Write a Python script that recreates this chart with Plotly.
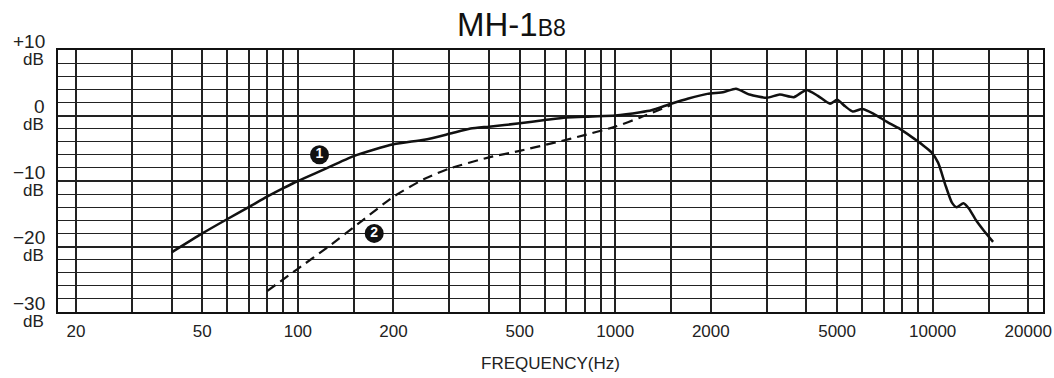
import plotly.graph_objects as go

# ---- data ----
freq_1 = [40, 50, 60, 70, 80, 90, 100, 120, 150, 200, 250, 300, 350, 400, 500, 600, 700,
          850, 1000, 1200, 1300, 1500, 1700, 1950, 2200, 2400, 2650, 3000, 3300, 3650,
          4000, 4350, 4750, 5000, 5300, 5600, 6000, 6500, 7200, 7800, 8600, 9300, 9900,
          10400, 11000, 11500, 11900, 12500, 13000, 13700, 14500, 15500]
db_1 = [-20.9, -18.0, -15.8, -14.0, -12.4, -11.1, -10.0, -8.3, -6.2, -4.4, -3.7, -2.8, -2.0,
        -1.7, -1.2, -0.7, -0.3, -0.15, 0.0, 0.5, 0.8, 1.8, 2.6, 3.3, 3.6, 4.1, 3.2, 2.7,
        3.2, 2.8, 3.9, 3.0, 1.8, 2.4, 1.4, 0.6, 1.0, 0.3, -1.0, -1.9, -3.3, -4.5, -5.6,
        -7.2, -10.8, -13.3, -14.0, -13.4, -14.2, -16.0, -17.6, -19.3]

freq_2 = [80, 100, 125, 160, 200, 250, 300, 400, 500, 650, 800, 1000, 1200, 1500]
db_2 = [-26.8, -23.4, -20.0, -16.0, -12.4, -9.7, -8.1, -6.4, -5.4, -4.1, -3.0, -1.7, -0.3, 1.6]

x_grid = [20, 30, 40, 50, 60, 70, 80, 90, 100, 150, 200, 300, 400, 500, 600, 700, 800, 900,
          1000, 1500, 2000, 3000, 4000, 5000, 6000, 7000, 8000, 9000, 10000, 15000, 20000]
x_labels = {20: "20", 50: "50", 100: "100", 200: "200", 500: "500", 1000: "1000",
            2000: "2000", 5000: "5000", 10000: "10000", 20000: "20000"}
y_label_vals = [10, 0, -10, -20, -30]
y_label_text = ["+10", "0", "−10", "−20", "−30"]

curve_names = ["1", "2"]
curve_label_x = [117, 174]
curve_label_y = [-6, -18]

FONT = "Liberation Sans, Arial, sans-serif"
GRID = "#222222"

fig = go.Figure()
fig.add_trace(go.Scatter(x=freq_1, y=db_1, mode="lines",
                         line=dict(color="#111", width=2.5, shape="spline", smoothing=0.6),
                         showlegend=False, hoverinfo="skip"))
fig.add_trace(go.Scatter(x=freq_2, y=db_2, mode="lines",
                         line=dict(color="#111", width=2.2, dash="10px,6px", shape="spline", smoothing=0.6),
                         showlegend=False, hoverinfo="skip"))
fig.add_trace(go.Scatter(x=curve_label_x, y=curve_label_y, mode="markers+text",
                         marker=dict(size=19, color="#111", line=dict(width=0)),
                         text=["<b>%s</b>" % n for n in curve_names], textposition="middle center",
                         textfont=dict(family=FONT, size=14, color="white"),
                         showlegend=False, hoverinfo="skip"))

fig.update_xaxes(type="log", range=[1.2443, 4.3476], automargin=False,
                 tickvals=x_grid, ticktext=[x_labels.get(v, "") for v in x_grid],
                 showgrid=True, gridcolor=GRID, gridwidth=1.5,
                 ticks="", ticklabelstandoff=3,
                 tickfont=dict(family=FONT, size=17, color="#222"),
                 showline=True, mirror=True, linecolor="#111", linewidth=2,
                 zeroline=False,
                 title=dict(text="FREQUENCY(Hz)", font=dict(family=FONT, size=17, color="#222"),
                            standoff=17))
fig.update_yaxes(range=[-30, 10], tickmode="linear", tick0=-30, dtick=10, automargin=False,
                 showgrid=True, gridcolor=GRID, gridwidth=2,
                 minor=dict(tickmode="linear", tick0=-30, dtick=2, showgrid=True,
                            gridcolor=GRID, gridwidth=1.4),
                 showticklabels=False, ticks="",
                 showline=True, mirror=True, linecolor="#111", linewidth=2,
                 zeroline=False)

for v, t in zip(y_label_vals, y_label_text):
    fig.add_annotation(x=0, xref="paper", xanchor="right", xshift=-11, y=v, yref="y",
                       yanchor="middle", yshift=9, text=t, showarrow=False,
                       font=dict(family=FONT, size=19, color="#222"))
    fig.add_annotation(x=0, xref="paper", xanchor="right", xshift=-12, y=v, yref="y",
                       yanchor="middle", yshift=-9, text="dB", showarrow=False,
                       font=dict(family=FONT, size=17, color="#222"))

fig.add_annotation(x=0.46, xref="paper", xanchor="center", y=1.019, yref="paper",
                   yanchor="bottom", showarrow=False,
                   text="MH-1<span style='font-size:23px'>B8</span>",
                   font=dict(family=FONT, size=33, color="#111"))

fig.update_layout(width=1054, height=378, margin=dict(l=58, r=11, t=50, b=66),
                  paper_bgcolor="white", plot_bgcolor="white")

fig.write_html("out.html", config={"displayModeBar": False},
               post_script="document.body.style.margin='0px';")
